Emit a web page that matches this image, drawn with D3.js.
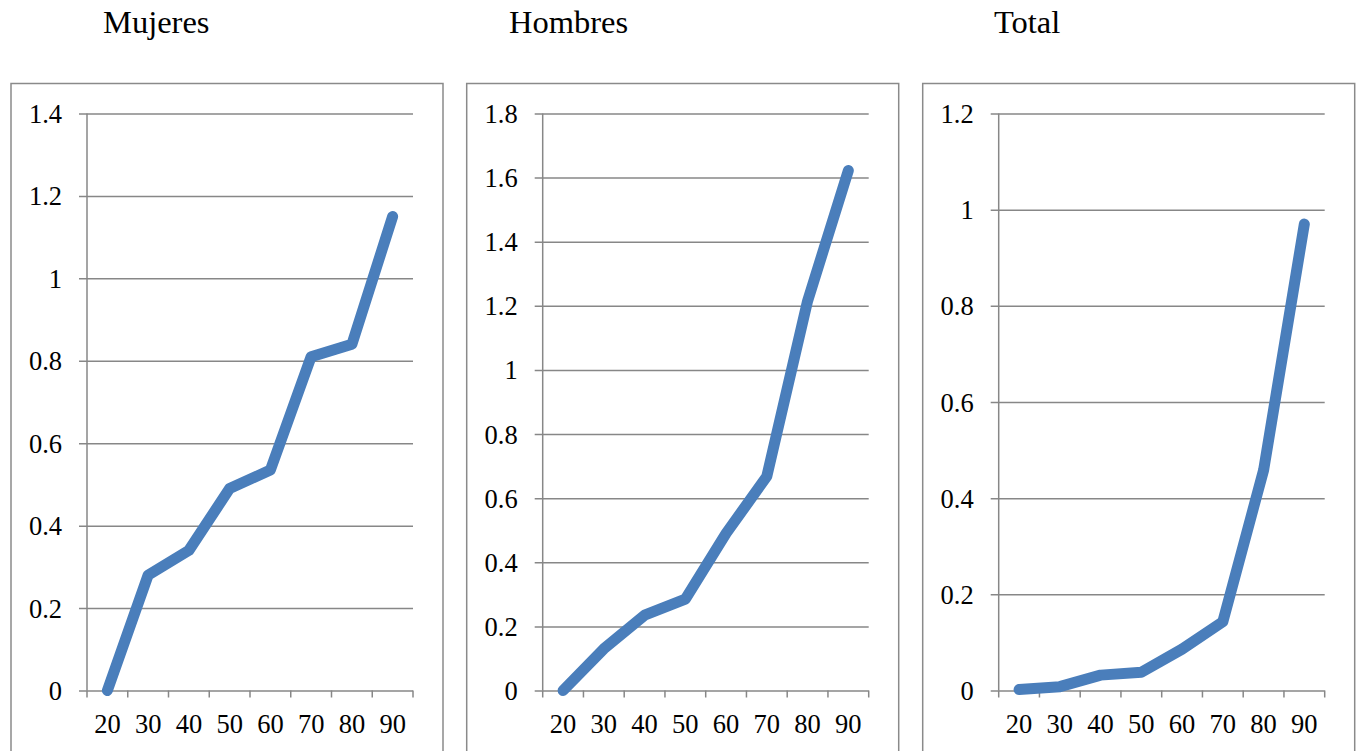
<!DOCTYPE html>
<html>
<head>
<meta charset="utf-8">
<script src="https://cdn.jsdelivr.net/npm/d3@7"></script>
<style>
  html, body { margin: 0; padding: 0; background: #fff; }
  svg { display: block; }
  text { font-family: "Liberation Serif", "DejaVu Serif", serif; fill: #000; }
</style>
</head>
<body>
<svg id="chart" width="1361" height="751"></svg>
<script>
// Age groups on the horizontal axis
const ageGroups = ["20", "30", "40", "50", "60", "70", "80", "90"];

// Series values per age group
const mujeres = [0, 0.28, 0.34, 0.49, 0.535, 0.81, 0.84, 1.15];
const hombres = [0, 0.13, 0.235, 0.285, 0.49, 0.668, 1.215, 1.622];
const total   = [0.002, 0.008, 0.032, 0.038, 0.086, 0.143, 0.458, 0.97];

// Panel titles
const titles = ["Mujeres", "Hombres", "Total"];

// Value-axis ticks per panel
const mujeresTicks = [0, 0.2, 0.4, 0.6, 0.8, 1, 1.2, 1.4];
const hombresTicks = [0, 0.2, 0.4, 0.6, 0.8, 1, 1.2, 1.4, 1.6, 1.8];
const totalTicks   = [0, 0.2, 0.4, 0.6, 0.8, 1, 1.2];

const panels = [
  { title: titles[0], values: mujeres, ticks: mujeresTicks, left: 11,    titleX: 103 },
  { title: titles[1], values: hombres, ticks: hombresTicks, left: 466.7, titleX: 509 },
  { title: titles[2], values: total,   ticks: totalTicks,   left: 922.7, titleX: 994 }
];

const svg = d3.select("#chart");
const frameW = 432, frameTop = 83.5;
const plotOffset = 76, plotW = 326;
const plotTop = 113.5, plotBottom = 690.5;
const gridColor = "#878787";
const lineColor = "#4a7ebb";
const fmt = v => String(+v.toFixed(1));

panels.forEach(p => {
  const g = svg.append("g");

  // chart frame (runs past the bottom edge of the page)
  g.append("rect")
    .attr("x", p.left).attr("y", frameTop)
    .attr("width", frameW).attr("height", 720)
    .attr("fill", "none").attr("stroke", "#8a8a8a").attr("stroke-width", 1.5);

  // title
  g.append("text")
    .attr("x", p.titleX).attr("y", 33)
    .attr("font-size", 32.5)
    .text(p.title);

  const x0 = p.left + plotOffset;
  const x = d3.scaleBand().domain(ageGroups).range([x0, x0 + plotW]).padding(0);
  const y = d3.scaleLinear()
    .domain([0, d3.max(p.ticks)])
    .range([plotBottom, plotTop]);

  // horizontal gridlines with outward tick stubs
  const yAxis = d3.axisLeft(y)
    .tickValues(p.ticks)
    .tickSize(-(plotW + 8))
    .tickSizeOuter(0)
    .tickPadding(0)
    .tickFormat(fmt);
  const ya = g.append("g")
    .attr("transform", `translate(${x0 + plotW},0)`)
    .call(yAxis);
  ya.select(".domain").remove();
  ya.selectAll(".tick line")
    .attr("x1", 0).attr("x2", -(plotW + 8))
    .attr("stroke", gridColor).attr("stroke-width", 1.5);
  ya.selectAll(".tick text")
    .attr("x", -(plotW + 25))
    .attr("dy", "0.34em")
    .attr("font-size", 26.5)
    .attr("font-family", "Liberation Serif")
    .attr("fill", "#000");

  // vertical axis line
  g.append("line")
    .attr("x1", x0).attr("x2", x0)
    .attr("y1", plotTop).attr("y2", plotBottom)
    .attr("stroke", gridColor).attr("stroke-width", 1.5);

  // category axis
  const xa = g.append("g")
    .attr("transform", `translate(0,${plotBottom})`)
    .call(d3.axisBottom(x).tickSize(0).tickPadding(0));
  xa.select(".domain").remove();
  xa.selectAll(".tick text")
    .attr("y", 42)
    .attr("dy", 0)
    .attr("font-size", 26.5)
    .attr("font-family", "Liberation Serif")
    .attr("fill", "#000");

  // category boundary tick marks
  const bounds = ageGroups.map(c => x(c)).concat([x0 + plotW]);
  g.selectAll("line.xtick")
    .data(bounds)
    .join("line")
    .attr("class", "xtick")
    .attr("x1", d => d).attr("x2", d => d)
    .attr("y1", plotBottom).attr("y2", plotBottom + 7)
    .attr("stroke", gridColor).attr("stroke-width", 1.5);

  // series line
  const line = d3.line()
    .x((d, i) => x(ageGroups[i]) + x.bandwidth() / 2)
    .y(d => y(d));
  g.append("path")
    .datum(p.values)
    .attr("d", line)
    .attr("fill", "none")
    .attr("stroke", lineColor)
    .attr("stroke-width", 11)
    .attr("stroke-linejoin", "round")
    .attr("stroke-linecap", "round");
});
</script>
</body>
</html>
